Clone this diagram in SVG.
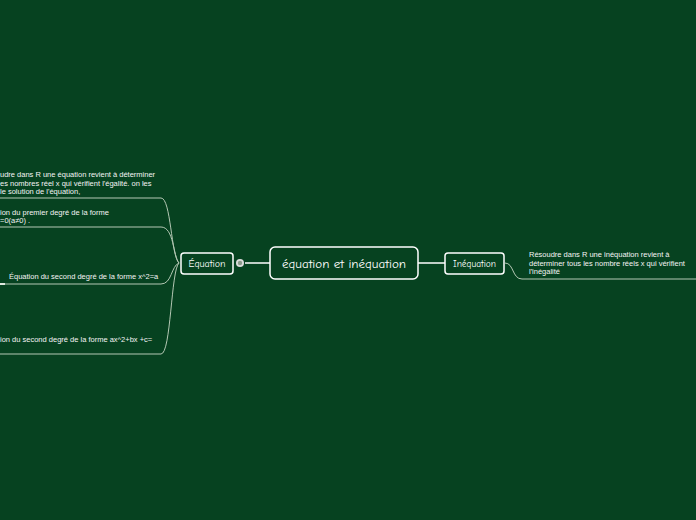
<svg xmlns="http://www.w3.org/2000/svg" width="696" height="520" viewBox="0 0 696 520">
<style>
.node{fill:#064220;stroke:#ffffff;stroke-width:1.5}
.main{font-family:"Comic Neue","Lato","Liberation Sans",sans-serif;fill:#ffffff}
.t{font-family:"Liberation Sans","DejaVu Sans",sans-serif;font-size:7.5px;fill:#f4f4f4}
.c{fill:none;stroke:#b4c8b4;stroke-width:1}
.w{fill:none;stroke:#ffffff;stroke-width:1.5}
</style>
<rect width="696" height="520" fill="#064220"/>
<g id="connectors">
<line class="w" x1="245" y1="263" x2="270" y2="263"/>
<line class="w" x1="418" y1="263" x2="445" y2="263"/>
<path class="c" d="M179,263 C171,256 171,198 161,198 L0,198"/>
<path class="c" d="M179,263 C173,256 174,227 161,227 L0,227"/>
<path class="c" d="M179,263 C171,266 172,284 161,284 L0,284"/>
<path class="c" d="M179,263 C171,270 171,354 161,354 L0,354"/>
<path class="c" d="M505,263 C514,263 512,279 522,279 L696,279"/>
<line x1="0" y1="284" x2="5" y2="284" stroke="#e0e8e0" stroke-width="2"/>
</g>
<g id="central">
<rect class="node" x="270" y="247" width="148" height="32" rx="5"/>
<text class="main" x="344" y="267.5" font-size="12.5" text-anchor="middle" textLength="124" lengthAdjust="spacingAndGlyphs">équation et inéquation</text>
</g>
<g id="equation">
<rect class="node" x="181" y="253" width="52" height="21" rx="3"/>
<text class="main" x="207" y="266.5" font-size="9.5" text-anchor="middle" textLength="37" lengthAdjust="spacingAndGlyphs">Équation</text>
<circle cx="240" cy="263" r="4" fill="#dcdcdc"/>
<circle cx="240" cy="263" r="2.2" fill="#8a9a8a"/>
</g>
<g id="inequation">
<rect class="node" x="445" y="253" width="59" height="21" rx="3"/>
<text class="main" x="474.5" y="266.5" font-size="9.5" text-anchor="middle" textLength="43" lengthAdjust="spacingAndGlyphs">Inéquation</text>
</g>
<g id="eq-def">
<text class="t" x="0" y="177">udre dans R une équation revient à déterminer</text>
<text class="t" x="0" y="186">es nombres réel x qui vérifient l'égalité. on les</text>
<text class="t" x="0" y="194">le solution de l'équation,</text>
</g>
<g id="eq-premier">
<text class="t" x="0" y="215">ion du premier degré de la forme</text>
<text class="t" x="0" y="223">=0(a≠0) .</text>
</g>
<g id="eq-second-a">
<text class="t" x="9" y="279">Équation du second degré de la forme x^2=a</text>
</g>
<g id="eq-second-abc">
<text class="t" x="0" y="342">ion du second degré de la forme ax^2+bx +c=</text>
</g>
<g id="ineq-def">
<text class="t" x="529" y="257">Résoudre dans R une inéquation revient à</text>
<text class="t" x="529" y="266">déterminer tous les nombre réels x qui vérifient</text>
<text class="t" x="529" y="274">l'inégalité</text>
</g>
</svg>
